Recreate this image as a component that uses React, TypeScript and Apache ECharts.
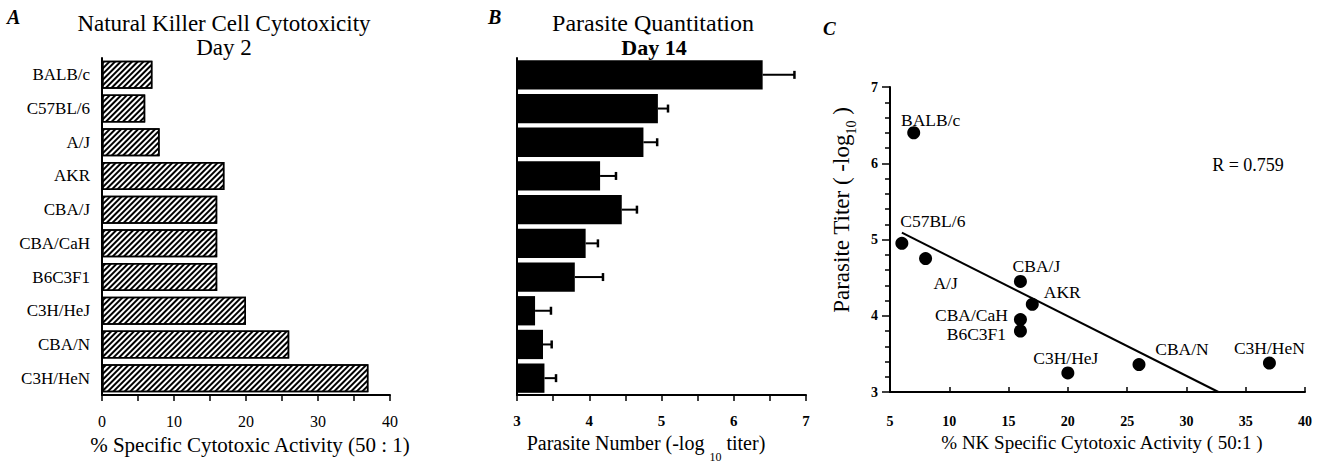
import React, { useEffect, useRef } from "react";
import * as echarts from "echarts";

// ---- data ----
const strains = ["BALB/c", "C57BL/6", "A/J", "AKR", "CBA/J", "CBA/CaH", "B6C3F1", "C3H/HeJ", "CBA/N", "C3H/HeN"];
const nkActivity = [7, 6, 8, 17, 16, 16, 16, 20, 26, 37];
const parasiteTiter = [6.4, 4.95, 4.75, 4.15, 4.45, 3.95, 3.8, 3.25, 3.36, 3.38];
const titerError = [0.44, 0.14, 0.19, 0.22, 0.21, 0.17, 0.39, 0.22, 0.12, 0.16];
const regressionLine = [
  [6, 5.09],
  [32.7, 3],
];
const rValue = "R = 0.759";

// ---- styling (label offsets in px from the point) ----
const labelOffsets: Record<string, [number, number]> = {
  "BALB/c": [17, -13],
  "C57BL/6": [31, -22],
  "A/J": [20, 24],
  AKR: [30, -12],
  "CBA/J": [16, -15],
  "CBA/CaH": [-49, -5],
  B6C3F1: [-44, 3],
  "C3H/HeJ": [-2, -15],
  "CBA/N": [43, -16],
  "C3H/HeN": [0, -15],
};

const FF = "Liberation Serif";
const BLACK = "#000";

export default function App() {
  const ref = useRef<HTMLDivElement>(null);

  useEffect(() => {
    document.body.style.margin = "0";
    const chart = echarts.init(ref.current!, null, { renderer: "svg" });

    const axisLine = { show: true, lineStyle: { color: BLACK, width: 2 } };

    const option: any = {
      animation: false,
      backgroundColor: "#fff",
      textStyle: { fontFamily: FF, color: BLACK },
      grid: [
        { left: 102, top: 58, width: 288, height: 337 },
        { left: 517, top: 58, width: 289, height: 337 },
        { left: 890, top: 87, width: 415, height: 305 },
      ],
      xAxis: [
        {
          gridIndex: 0,
          type: "value",
          min: 0,
          max: 40,
          interval: 10,
          axisLine,
          axisTick: { show: true, length: 6, lineStyle: { color: BLACK, width: 1.5 } },
          minorTick: { show: true, splitNumber: 2, length: 6, lineStyle: { color: BLACK, width: 1.5 } },
          splitLine: { show: false },
          axisLabel: { fontSize: 16, color: BLACK, margin: 18, fontFamily: FF },
        },
        {
          gridIndex: 1,
          type: "value",
          min: 3,
          max: 7,
          interval: 1,
          axisLine,
          axisTick: { show: true, length: 6, lineStyle: { color: BLACK, width: 1.5 } },
          minorTick: { show: true, splitNumber: 2, length: 6, lineStyle: { color: BLACK, width: 1.5 } },
          splitLine: { show: false },
          axisLabel: { fontSize: 15, fontWeight: "bold", color: BLACK, margin: 18, fontFamily: FF },
        },
        {
          gridIndex: 2,
          type: "value",
          min: 5,
          max: 40,
          interval: 5,
          axisLine,
          axisTick: { show: true, inside: true, length: 5, lineStyle: { color: BLACK, width: 1.5 } },
          splitLine: { show: false },
          axisLabel: { fontSize: 14, fontWeight: "bold", color: BLACK, margin: 22, fontFamily: FF },
        },
      ],
      yAxis: [
        {
          gridIndex: 0,
          type: "category",
          data: strains,
          inverse: true,
          axisLine,
          axisTick: { show: false },
          axisLabel: { fontSize: 17, color: BLACK, margin: 12, fontFamily: FF },
        },
        {
          gridIndex: 1,
          type: "category",
          data: strains,
          inverse: true,
          axisLine,
          axisTick: { show: false },
          axisLabel: { show: false },
        },
        {
          gridIndex: 2,
          type: "value",
          min: 3,
          max: 7,
          interval: 1,
          axisLine,
          axisTick: { show: true, length: 8, lineStyle: { color: BLACK, width: 1.5 } },
          minorTick: { show: true, splitNumber: 5, length: 5, lineStyle: { color: BLACK, width: 1.5 } },
          splitLine: { show: false },
          axisLabel: { fontSize: 14, fontWeight: "bold", color: BLACK, margin: 12, fontFamily: FF },
        },
      ],
      series: [
        {
          type: "bar",
          xAxisIndex: 0,
          yAxisIndex: 0,
          data: nkActivity,
          barCategoryGap: "17%",
          itemStyle: {
            color: "#fff",
            borderColor: BLACK,
            borderWidth: 1.5,
            decal: {
              symbol: "rect",
              symbolSize: 1,
              dashArrayX: [1, 0],
              dashArrayY: [2, 2],
              rotation: -Math.PI / 4,
              color: BLACK,
            },
          },
        },
        {
          type: "bar",
          xAxisIndex: 1,
          yAxisIndex: 1,
          data: parasiteTiter,
          barCategoryGap: "13%",
          clip: true,
          itemStyle: { color: BLACK },
        },
        {
          type: "custom",
          xAxisIndex: 1,
          yAxisIndex: 1,
          data: parasiteTiter.map((v, i) => [v, v + titerError[i], i]),
          encode: { x: [0, 1], y: 2 },
          clip: false,
          renderItem: (params: any, api: any) => {
            const p0 = api.coord([api.value(0), api.value(2)]);
            const p1 = api.coord([api.value(1), api.value(2)]);
            return {
              type: "group",
              children: [
                {
                  type: "line",
                  shape: { x1: p0[0], y1: p0[1], x2: p1[0], y2: p1[1] },
                  style: { stroke: BLACK, lineWidth: 2 },
                },
                {
                  type: "line",
                  shape: { x1: p1[0], y1: p1[1] - 4, x2: p1[0], y2: p1[1] + 4 },
                  style: { stroke: BLACK, lineWidth: 2.5 },
                },
              ],
            };
          },
        },
        {
          type: "line",
          xAxisIndex: 2,
          yAxisIndex: 2,
          data: regressionLine,
          symbol: "none",
          lineStyle: { color: BLACK, width: 2 },
        },
        {
          type: "scatter",
          xAxisIndex: 2,
          yAxisIndex: 2,
          symbolSize: 13,
          itemStyle: { color: BLACK, opacity: 1 },
          data: strains.map((s, i) => ({
            name: s,
            value: [nkActivity[i], parasiteTiter[i]],
            label: { offset: labelOffsets[s] },
          })),
          label: {
            show: true,
            position: "inside",
            formatter: "{b}",
            fontSize: 17.5,
            color: BLACK,
            fontFamily: FF,
            align: "center",
            verticalAlign: "middle",
          },
        },
      ],
      graphic: [
        { type: "text", x: 7, y: 17, style: { text: "A", fontSize: 20, fontWeight: "bold", fontStyle: "italic", fontFamily: FF, fill: BLACK, verticalAlign: "middle" } },
        { type: "text", x: 488, y: 17, style: { text: "B", fontSize: 20, fontWeight: "bold", fontStyle: "italic", fontFamily: FF, fill: BLACK, verticalAlign: "middle" } },
        { type: "text", x: 823, y: 28, style: { text: "C", fontSize: 19, fontWeight: "bold", fontStyle: "italic", fontFamily: FF, fill: BLACK, verticalAlign: "middle" } },
        { type: "text", x: 224, y: 23, style: { text: "Natural Killer Cell Cytotoxicity", fontSize: 23, fontFamily: FF, fill: BLACK, align: "center", verticalAlign: "middle" } },
        { type: "text", x: 224, y: 47, style: { text: "Day 2", fontSize: 23, fontFamily: FF, fill: BLACK, align: "center", verticalAlign: "middle" } },
        { type: "text", x: 653, y: 23, style: { text: "Parasite Quantitation", fontSize: 24, fontFamily: FF, fill: BLACK, align: "center", verticalAlign: "middle" } },
        { type: "text", x: 654, y: 47, style: { text: "Day 14", fontSize: 22, fontWeight: "bold", fontFamily: FF, fill: BLACK, align: "center", verticalAlign: "middle" } },
        { type: "text", x: 250, y: 445, style: { text: "% Specific Cytotoxic Activity (50 : 1)", fontSize: 21, fontFamily: FF, fill: BLACK, align: "center", verticalAlign: "middle" } },
        {
          type: "text",
          x: 646,
          y: 443,
          style: {
            text: "{m|Parasite Number (-log }{s|10}{m| titer)}",
            fontFamily: FF,
            fill: BLACK,
            align: "center",
            verticalAlign: "middle",
            rich: {
              m: { fontSize: 20, fontFamily: FF, fill: BLACK },
              s: { fontSize: 12, fontFamily: FF, fill: BLACK, padding: [28, 0, 0, 0] },
            },
          },
        },
        { type: "text", x: 1102, y: 442, style: { text: "% NK Specific Cytotoxic Activity ( 50:1 )", fontSize: 19, fontFamily: FF, fill: BLACK, align: "center", verticalAlign: "middle" } },
        {
          type: "text",
          x: 841,
          y: 210,
          rotation: Math.PI / 2,
          style: {
            text: "{m|Parasite Titer ( -log}{s|10}{m| )}",
            fontFamily: FF,
            fill: BLACK,
            align: "center",
            verticalAlign: "middle",
            rich: {
              m: { fontSize: 23, fontFamily: FF, fill: BLACK },
              s: { fontSize: 14, fontFamily: FF, fill: BLACK, padding: [20, 0, 0, 0] },
            },
          },
        },
        { type: "text", x: 1248, y: 165, style: { text: rValue, fontSize: 18, fontFamily: FF, fill: BLACK, align: "center", verticalAlign: "middle" } },
      ],
    };

    chart.setOption(option);
    return () => chart.dispose();
  }, []);

  return <div ref={ref} style={{ width: 1325, height: 464 }} />;
}
